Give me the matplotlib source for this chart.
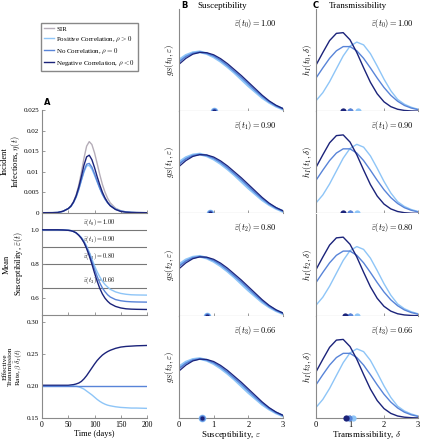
import matplotlib
matplotlib.use("Agg")
import matplotlib.pyplot as plt

plt.rcParams['font.family'] = 'serif'
plt.rcParams['font.serif'] = ['Liberation Serif', 'DejaVu Serif']
plt.rcParams['mathtext.fontset'] = 'cm'

# colours
c_sir = '#b5adb8'
c_pos = '#8ec5f7'
c_none = '#5884d8'
c_neg = '#1b237a'
c_axis = '#8a8a8a'

# ---- panel A data ----
t = [0, 20, 30, 40, 50, 55, 60, 65, 70, 75, 80, 85, 90, 95, 100, 105, 110, 115,
     120, 125, 130, 140, 150, 160, 170, 180, 200]

inc_sir = [0, 0.00001, 0.00005, 0.00036, 0.0010, 0.00165, 0.0027, 0.0043, 0.0067, 0.0098,
           0.0133, 0.0162, 0.0173, 0.0166, 0.0146, 0.0120, 0.0093, 0.0069, 0.0050, 0.0035,
           0.0024, 0.0011, 0.0005, 0.0002, 0.0001, 0.00004, 0]
inc_neg = [0, 0.00001, 0.00005, 0.00035, 0.0010, 0.0016, 0.0026, 0.0041, 0.0062, 0.0088,
           0.0116, 0.0136, 0.0140, 0.0129, 0.0110, 0.0088, 0.0068, 0.0050, 0.0036, 0.0025,
           0.0017, 0.0008, 0.0003, 0.00013, 0.00005, 0.00002, 0]
inc_none = [0, 0.00001, 0.00005, 0.00034, 0.0010, 0.0015, 0.0025, 0.0038, 0.0057, 0.0080,
            0.0102, 0.0118, 0.0120, 0.0111, 0.0095, 0.0077, 0.0060, 0.0045, 0.0033, 0.0024,
            0.0017, 0.0008, 0.0004, 0.00017, 0.00007, 0.00003, 0]
inc_pos = [0, 0.00001, 0.00005, 0.00034, 0.0010, 0.0015, 0.0025, 0.0038, 0.0056, 0.0078,
           0.0099, 0.0114, 0.0115, 0.0106, 0.0091, 0.0075, 0.0059, 0.0045, 0.0034, 0.0025,
           0.0018, 0.0009, 0.0004, 0.0002, 0.00008, 0.00003, 0]

sus_pos = [1.0, 1.0, 1.0, 0.999, 0.997, 0.995, 0.99, 0.983, 0.97, 0.955, 0.935, 0.905, 0.87,
           0.83, 0.79, 0.755, 0.725, 0.70, 0.68, 0.665, 0.652, 0.637, 0.628, 0.623, 0.62,
           0.619, 0.618]
sus_none = [1.0, 1.0, 1.0, 0.999, 0.997, 0.995, 0.99, 0.982, 0.969, 0.952, 0.928, 0.897, 0.86,
            0.815, 0.77, 0.728, 0.69, 0.66, 0.638, 0.62, 0.607, 0.592, 0.585, 0.581, 0.579,
            0.578, 0.577]
sus_neg = [1.0, 1.0, 1.0, 0.999, 0.997, 0.995, 0.99, 0.982, 0.968, 0.95, 0.925, 0.89, 0.848,
           0.80, 0.748, 0.70, 0.658, 0.625, 0.60, 0.582, 0.568, 0.552, 0.543, 0.538, 0.536,
           0.535, 0.534]

beta_neg = [0.201, 0.201, 0.201, 0.201, 0.201, 0.2015, 0.202, 0.203, 0.2045, 0.207, 0.211,
            0.216, 0.222, 0.228, 0.234, 0.2395, 0.244, 0.248, 0.251, 0.2535, 0.2555, 0.2585,
            0.2605, 0.2615, 0.262, 0.2625, 0.263]
beta_none = [0.2] * len(t)
beta_pos = [0.2, 0.2, 0.2, 0.2, 0.2, 0.2, 0.2, 0.1995, 0.1985, 0.197, 0.195, 0.192, 0.189,
            0.186, 0.1825, 0.179, 0.176, 0.1735, 0.1715, 0.170, 0.169, 0.1675, 0.1665, 0.166,
            0.1655, 0.1655, 0.165]

eps_levels = [1.00, 0.90, 0.80, 0.66]
eps_labels = ['1.00', '0.90', '0.80', '0.66']

# ---- panel B / C data ----
x = [0, 0.2, 0.4, 0.6, 0.8, 1.0, 1.2, 1.4, 1.6, 1.8, 2.0, 2.2, 2.4, 2.6, 2.8, 3.0]

gs_pos = [0.86, 0.94, 0.985, 1.0, 0.97, 0.915, 0.84, 0.75, 0.65, 0.54, 0.43, 0.33, 0.23,
          0.15, 0.085, 0.035]
gs_none = [0.83, 0.92, 0.975, 0.995, 0.975, 0.93, 0.86, 0.77, 0.67, 0.57, 0.46, 0.35, 0.25,
           0.16, 0.09, 0.04]
gs_neg = [0.79, 0.89, 0.96, 0.99, 0.985, 0.95, 0.885, 0.80, 0.70, 0.60, 0.49, 0.38, 0.27,
          0.175, 0.10, 0.045]

hi_pos = [0.105, 0.185, 0.295, 0.424, 0.552, 0.649, 0.69, 0.662, 0.575, 0.451, 0.32, 0.205,
          0.118, 0.07, 0.04, 0.02]
hi_none = [0.331, 0.432, 0.528, 0.603, 0.645, 0.645, 0.603, 0.528, 0.432, 0.331, 0.237, 0.159,
           0.10, 0.058, 0.032, 0.016]
hi_neg = [0.46, 0.585, 0.705, 0.777, 0.784, 0.713, 0.586, 0.434, 0.289, 0.174, 0.094, 0.046,
          0.02, 0.008, 0.003, 0.001]

# mean transmissibility markers per time (pos, none, neg)
delta_pos = [1.24, 1.22, 1.20, 1.08]
delta_none = [1.00, 1.00, 1.00, 0.97]
delta_neg = [0.80, 0.80, 0.85, 0.88]

W, H = 422, 440
fig = plt.figure(figsize=(W / 100, H / 100), dpi=100)


def frac(x0, y0, x1, y1):
    return [x0 / W, 1 - y1 / H, (x1 - x0) / W, (y1 - y0) / H]


def style(ax):
    for s in ['top', 'right']:
        ax.spines[s].set_visible(False)
    for s in ['left', 'bottom']:
        ax.spines[s].set_color(c_axis)
        ax.spines[s].set_linewidth(0.8)
    ax.tick_params(direction='in', length=2, width=0.6, color=c_axis, labelsize=5, pad=2)


lw = 1.0

# ---------------- column A ----------------
rows_a = [110, 212.7, 315.3, 418]
axA = [fig.add_axes(frac(42, rows_a[i], 147, rows_a[i + 1])) for i in range(3)]
for ax in axA:
    style(ax)
    ax.set_xlim(0, 200)
    ax.set_xticks([0, 50, 100, 150, 200])
    ax.tick_params(axis='x', labelsize=5.5)
    ax.patch.set_alpha(0)

a1, a2, a3 = axA
l_sir, = a1.plot(t, inc_sir, color=c_sir, lw=lw, label='SIR')
l_pos, = a1.plot(t, inc_pos, color=c_pos, lw=lw, label=r'Positive Correlation, $\rho > 0$')
l_none, = a1.plot(t, inc_none, color=c_none, lw=lw, label=r'No Correlation, $\rho = 0$')
l_neg, = a1.plot(t, inc_neg, color=c_neg, lw=lw, label=r'Negative Correlation, $\rho < 0$')
a1.set_ylim(0, 0.025)
a1.set_yticks([0, 0.005, 0.01, 0.015, 0.02, 0.025])
a1.set_yticklabels(['0', '0.005', '0.01', '0.015', '0.02', '0.025'])
a1.set_xticklabels([])
a1.set_ylabel('Incident\nInfections, $\\eta(t)$', fontsize=6, linespacing=1.1, va='center')
a1.yaxis.set_label_coords(-0.295, 0.5)

for k, (lev, lab) in enumerate(zip(eps_levels, eps_labels)):
    a2.axhline(lev, color='#777777', lw=0.8, zorder=1)
    a2.text(78, lev + 0.012, r'$\bar{\varepsilon}(t_%d) = %s$' % (k, lab),
            fontsize=4.5, va='bottom', ha='left')
a2.plot(t, sus_pos, color=c_pos, lw=lw, zorder=3)
a2.plot(t, sus_none, color=c_none, lw=lw, zorder=3)
a2.plot(t, sus_neg, color=c_neg, lw=lw, zorder=3)
a2.set_ylim(0.5, 1.1)
a2.set_yticks([0.6, 0.8, 1.0])
a2.set_yticklabels(['0.6', '0.8', '1.0'])
a2.set_xticklabels([])
a2.set_ylabel('Mean\nSusceptibility, $\\bar{\\varepsilon}(t)$', fontsize=6, linespacing=1.1,
              va='center')
a2.yaxis.set_label_coords(-0.27, 0.5)

a3.plot(t, beta_pos, color=c_pos, lw=lw)
a3.plot(t, beta_neg, color=c_neg, lw=lw)
a3.plot(t, beta_none, color=c_none, lw=lw)
a3.set_ylim(0.15, 0.31)
a3.set_yticks([0.15, 0.20, 0.25, 0.30])
a3.set_yticklabels(['0.15', '0.20', '0.25', '0.30'])
a3.set_xticklabels(['0', '50', '100', '150', '200'])
a3.set_xlabel('Time (days)', fontsize=6, labelpad=1)
a3.set_ylabel('Effective\nTransmission\nRate, $\\beta\\,\\bar{\\delta}_I(t)$', fontsize=5.2,
              linespacing=1.0, va='center')
a3.yaxis.set_label_coords(-0.27, 0.5)

fig.text(47 / W, 1 - 107 / H, 'A', fontsize=6, fontweight='bold', family='DejaVu Sans',
         ha='center', va='bottom')

fig.legend(handles=[l_sir, l_pos, l_none, l_neg], loc='upper left',
           bbox_to_anchor=(41 / W, 1 - 23 / H), fontsize=5.0, frameon=True, fancybox=False,
           edgecolor='#888888', framealpha=1, handlelength=1.5, handletextpad=0.3,
           borderpad=0.4, labelspacing=0.42, borderaxespad=0)

# ---------------- columns B and C ----------------
rows_bc = [9 + i * 102.25 for i in range(5)]
for i in range(4):
    axb = fig.add_axes(frac(179, rows_bc[i], 283, rows_bc[i + 1]))
    axc = fig.add_axes(frac(316, rows_bc[i], 418, rows_bc[i + 1]))
    for ax in (axb, axc):
        style(ax)
        ax.set_xlim(0, 3)
        ax.set_xticks([0, 1, 2, 3])
        ax.set_yticks([])
        if i < 3:
            ax.set_xticklabels([])
        else:
            ax.tick_params(labelsize=6)

    axb.plot(x, gs_pos, color=c_pos, lw=2.0)
    axb.plot(x, gs_none, color=c_none, lw=1.2)
    axb.plot(x, gs_neg, color=c_neg, lw=0.9)
    axb.set_ylim(0, 1.72)
    for c, ms in ((c_pos, 5.5), (c_none, 4.5), (c_neg, 3.0)):
        axb.plot([eps_levels[i]], [0], 'o', color=c, ms=ms, mec='none', clip_on=False, zorder=4)
    axb.text(0.94, 0.86, r'$\bar{\varepsilon}(t_%d) = %s$' % (i, eps_labels[i]),
             transform=axb.transAxes, fontsize=6, ha='right', va='center')
    axb.set_ylabel(r'$g_S(t_%d, \varepsilon)$' % i, fontsize=6.5, va='center')
    axb.yaxis.set_label_coords(-0.09, 0.5)

    axc.plot(x, hi_pos, color=c_pos, lw=lw)
    axc.plot(x, hi_none, color=c_none, lw=lw)
    axc.plot(x, hi_neg, color=c_neg, lw=lw)
    axc.set_ylim(0, 1.02)
    axc.plot([delta_pos[i]], [0], 'o', color=c_pos, ms=4.5, mec='none', clip_on=False, zorder=4)
    axc.plot([delta_none[i]], [0], 'o', color=c_none, ms=4.5, mec='none', clip_on=False, zorder=4)
    axc.plot([delta_neg[i]], [0], 'o', color=c_neg, ms=4.5, mec='none', clip_on=False, zorder=4)
    axc.text(0.96, 0.86, r'$\bar{\varepsilon}(t_%d) = %s$' % (i, eps_labels[i]),
             transform=axc.transAxes, fontsize=6, ha='right', va='center')
    axc.set_ylabel(r'$h_I(t_%d, \delta)$' % i, fontsize=6.5, va='center')
    axc.yaxis.set_label_coords(-0.08, 0.5)

    if i == 3:
        axb.set_xlabel(r'Susceptibility, $\varepsilon$', fontsize=6.5, labelpad=0)
        axc.set_xlabel(r'Transmissibility, $\delta$', fontsize=6.5, labelpad=0)

fig.text(184 / W, 1 - 5 / H, 'B', fontsize=6, fontweight='bold', family='DejaVu Sans',
         ha='center', va='center')
fig.text(222 / W, 1 - 6 / H, 'Susceptibility', fontsize=6.5, ha='center', va='center')
fig.text(316 / W, 1 - 5 / H, 'C', fontsize=6, fontweight='bold', family='DejaVu Sans',
         ha='center', va='center')
fig.text(358 / W, 1 - 6 / H, 'Transmissibility', fontsize=6.5, ha='center', va='center')

fig.savefig('out.png', dpi=100)
